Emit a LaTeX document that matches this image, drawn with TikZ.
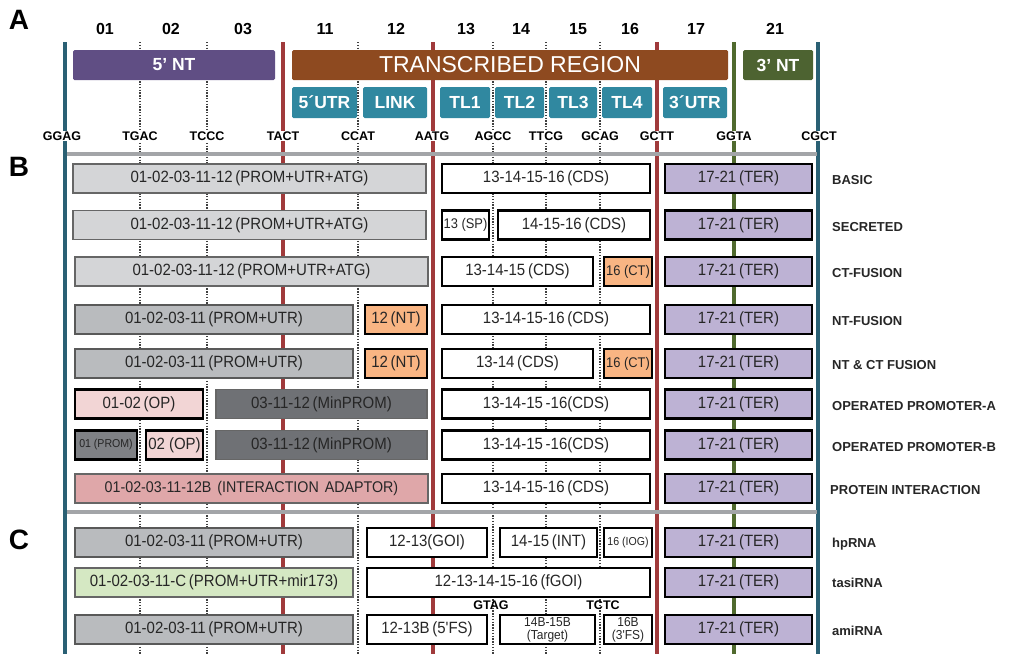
\documentclass[tikz,border=0pt]{standalone}
\usepackage{fontspec}
\setmainfont{Liberation Sans}
\newfontfamily\bxfont[FakeStretch=0.92]{Liberation Sans}
\newcommand\fsz[1]{\fontsize{#1}{#1}\selectfont}
\newcommand\bfsz[1]{\bxfont\fontsize{#1}{#1}\selectfont}
\definecolor{cPurp}{HTML}{604E84}
\definecolor{cBrown}{HTML}{8E4A20}
\definecolor{cDkGreen}{HTML}{4D6331}
\definecolor{cTeal}{HTML}{3088A0}
\definecolor{cRed}{HTML}{A03A3B}
\definecolor{cGreenLine}{HTML}{506A2E}
\definecolor{cTealLine}{HTML}{2A6074}
\definecolor{cSep}{HTML}{A3A5A8}
\definecolor{cPromL}{HTML}{D4D5D7}
\definecolor{cPromM}{HTML}{B9BBBE}
\definecolor{cPromD}{HTML}{7F8185}
\definecolor{cMinP}{HTML}{6F7175}
\definecolor{cOpPink}{HTML}{F2D5D5}
\definecolor{cIad}{HTML}{DFA7A9}
\definecolor{cOrange}{HTML}{F9B583}
\definecolor{cTer}{HTML}{BDB2D4}
\definecolor{cLtGreen}{HTML}{D5E8C3}
\definecolor{cTxt}{HTML}{262626}
\newcommand\bx[6]{\node[#2, minimum width={#4pt-#3pt}] (#1) at ({(#3+#4)/2},#5) {#6};}
\begin{document}
\begin{tikzpicture}[x=1pt,y=-1pt,
  bxbase/.style={rectangle, inner sep=0pt, minimum height=29pt, font=\bfsz{16.3}, text=cTxt, align=center},
  promL/.style={bxbase, fill=cPromL, draw=black!60, line width=1.5pt},
  promM/.style={bxbase, fill=cPromM, draw=black!65, line width=1.5pt},
  promD/.style={bxbase, fill=cPromD, draw=black, line width=2.4pt},
  minp/.style={bxbase, fill=cMinP, draw=black!60, line width=1.5pt},
  opk/.style={bxbase, fill=cOpPink, draw=black, line width=2.4pt},
  iad/.style={bxbase, fill=cIad, draw=black!60, line width=1.5pt},
  grn/.style={bxbase, fill=cLtGreen, draw=black!60, line width=1.5pt},
  cds/.style={bxbase, fill=white, draw=black, line width=2.4pt},
  cdsthin/.style={bxbase, fill=white, draw=black, line width=1.6pt, font=\bxfont\fontsize{13}{13}\selectfont},
  orng/.style={bxbase, fill=cOrange, draw=black, line width=2.4pt},
  ter/.style={bxbase, fill=cTer, draw=black, line width=2.4pt},
  bar/.style={rectangle, rounded corners=1.5pt, inner sep=0pt, text=white, font=\fsz{17.5}\bfseries},
  hdr/.style={font=\fsz{16}\bfseries, text=black},
  ovh/.style={font=\fsz{12.5}\bfseries, text=black, fill=white, inner sep=1pt},
  rowlab/.style={font=\fsz{13}\bfseries, text=cTxt, anchor=west, inner sep=0pt},
  sect/.style={font=\fsz{28}\bfseries, text=black},
  dotl/.style={draw=black!75, line width=1.3pt, dash pattern=on 1.4pt off 1.4pt},
  redl/.style={draw=cRed, line width=4pt},
  grnl/.style={draw=cGreenLine, line width=3.5pt},
  teall/.style={draw=cTealLine, line width=3.5pt},
  sepl/.style={draw=cSep, line width=4pt}
]
\useasboundingbox (0,0) rectangle (1009,654);
% vertical guide lines
\foreach \xx in {140,207,358,493,546,600} \draw[dotl] (\xx,42) -- (\xx,654);
\foreach \xx in {283,433,657} \draw[redl] (\xx,42) -- (\xx,654);
\draw[grnl] (734,42) -- (734,654);
\draw[teall] (65,42) -- (65,654);
\draw[teall] (818,42) -- (818,654);
% section letters
\node[sect] (lA) at (19,20) {A};
\node[sect] (lB) at (19,167) {B};
\node[sect] (lC) at (19,540) {C};
% part numbers
\node[hdr] (n01) at (105,29) {01};
\node[hdr] (n02) at (171,29) {02};
\node[hdr] (n03) at (243,29) {03};
\node[hdr] (n11) at (325,29) {11};
\node[hdr] (n12) at (396,29) {12};
\node[hdr] (n13) at (466,29) {13};
\node[hdr] (n14) at (521,29) {14};
\node[hdr] (n15) at (578,29) {15};
\node[hdr] (n16) at (630,29) {16};
\node[hdr] (n17) at (696,29) {17};
\node[hdr] (n21) at (775,29) {21};
% region bars
\node[bar, fill=cPurp, minimum width=202pt, minimum height=30pt] (fiveNT) at (174,65) {5’ NT};
\node[bar, fill=cBrown, minimum width=436pt, minimum height=30pt, font=\fsz{23}] (trans) at (510,65) {TRANSCRIBED REGION};
\node[bar, fill=cDkGreen, minimum width=70pt, minimum height=30pt] (threeNT) at (778,65) {3’ NT};
\node[bar, fill=cTeal, minimum width=65pt, minimum height=31pt] (utr5) at (324.5,102.5) {5´UTR};
\node[bar, fill=cTeal, minimum width=64pt, minimum height=31pt] (link) at (395,102.5) {LINK};
\node[bar, fill=cTeal, minimum width=50pt, minimum height=31pt] (tl1) at (465,102.5) {TL1};
\node[bar, fill=cTeal, minimum width=49pt, minimum height=31pt] (tl2) at (519.5,102.5) {TL2};
\node[bar, fill=cTeal, minimum width=48pt, minimum height=31pt] (tl3) at (573,102.5) {TL3};
\node[bar, fill=cTeal, minimum width=50pt, minimum height=31pt] (tl4) at (627,102.5) {TL4};
\node[bar, fill=cTeal, minimum width=64pt, minimum height=31pt] (utr3) at (695,102.5) {3´UTR};
% overhangs
\node[ovh] (o1) at (62,136) {GGAG};
\node[ovh] (o2) at (140,136) {TGAC};
\node[ovh] (o3) at (207,136) {TCCC};
\node[ovh] (o4) at (283,136) {TACT};
\node[ovh] (o5) at (358,136) {CCAT};
\node[ovh] (o6) at (432,136) {AATG};
\node[ovh] (o7) at (493,136) {AGCC};
\node[ovh] (o8) at (546,136) {TTCG};
\node[ovh] (o9) at (600,136) {GCAG};
\node[ovh] (o10) at (657,136) {GCTT};
\node[ovh] (o11) at (734,136) {GGTA};
\node[ovh] (o12) at (819,136) {CGCT};
% separators
\draw[sepl] (67,154) -- (817,154);
\draw[sepl] (67,512) -- (817,512);
% row 1 BASIC
\bx{r1a}{promL}{73}{426}{178.5}{01-02-03-11-12\,(PROM+UTR+ATG)}
\bx{r1b}{cds}{442}{650}{178.5}{13-14-15-16\,(CDS)}
\bx{r1c}{ter}{665}{812}{178.5}{17-21\,(TER)}
% row 2 SECRETED
\bx{r2a}{promL}{73}{426}{225}{01-02-03-11-12\,(PROM+UTR+ATG)}
\bx{r2b}{cds, font=\bfsz{14}}{442}{489}{225}{13 (SP)}
\bx{r2c}{cds}{498}{650}{225}{14-15-16\,(CDS)}
\bx{r2d}{ter}{665}{812}{225}{17-21\,(TER)}
% row 3 CT-FUSION
\bx{r3a}{promL}{75}{428}{271.5}{01-02-03-11-12\,(PROM+UTR+ATG)}
\bx{r3b}{cds}{442}{593}{271.5}{13-14-15\,(CDS)}
\bx{r3c}{orng, font=\bfsz{14}}{604}{652}{271.5}{16 (CT)}
\bx{r3d}{ter}{665}{812}{271.5}{17-21\,(TER)}
% row 4 NT-FUSION
\bx{r4a}{promM}{75}{353}{319.5}{01-02-03-11\,(PROM+UTR)}
\bx{r4b}{orng}{365}{427}{319.5}{12\,(NT)}
\bx{r4c}{cds}{442}{650}{319.5}{13-14-15-16\,(CDS)}
\bx{r4d}{ter}{665}{812}{319.5}{17-21\,(TER)}
% row 5 NT & CT FUSION
\bx{r5a}{promM}{75}{353}{363.5}{01-02-03-11\,(PROM+UTR)}
\bx{r5b}{orng}{365}{427}{363.5}{12\,(NT)}
\bx{r5c}{cds}{442}{593}{363.5}{13-14\,(CDS)}
\bx{r5d}{orng, font=\bfsz{14}}{604}{652}{363.5}{16 (CT)}
\bx{r5e}{ter}{665}{812}{363.5}{17-21\,(TER)}
% row 6 OPERATED PROMOTER-A
\bx{r6a}{opk}{75}{203}{404}{01-02\,(OP)}
\bx{r6b}{minp}{216}{427}{404}{03-11-12\,(MinPROM)}
\bx{r6c}{cds}{442}{650}{404}{13-14-15\,-16(CDS)}
\bx{r6d}{ter}{665}{812}{404}{17-21\,(TER)}
% row 7 OPERATED PROMOTER-B
\bx{r7a}{promD, font=\bfsz{11.5}}{75}{137}{445}{01 (PROM)}
\bx{r7b}{opk}{146}{203}{445}{02 (OP)}
\bx{r7c}{minp}{216}{427}{445}{03-11-12\,(MinPROM)}
\bx{r7d}{cds}{442}{650}{445}{13-14-15\,-16(CDS)}
\bx{r7e}{ter}{665}{812}{445}{17-21\,(TER)}
% row 8 PROTEIN INTERACTION
\bx{r8a}{iad, font=\bfsz{15.5}}{75}{428}{488.5}{01-02-03-11-12B\hspace{2pt} (INTERACTION\hspace{2pt} ADAPTOR)}
\bx{r8b}{cds}{442}{650}{488.5}{13-14-15-16\,(CDS)}
\bx{r8c}{ter}{665}{812}{488.5}{17-21\,(TER)}
% row 9 hpRNA
\bx{r9a}{promM}{75}{353}{542.5}{01-02-03-11\,(PROM+UTR)}
\bx{r9b}{cds}{367}{487}{542.5}{12-13(GOI)}
\bx{r9c}{cds}{500}{597}{542.5}{14-15\,(INT)}
\bx{r9d}{cds, font=\bfsz{11.5}}{604}{652}{542.5}{16 (IOG)}
\bx{r9e}{ter}{665}{812}{542.5}{17-21\,(TER)}
% row 10 tasiRNA
\bx{r10a}{grn}{75}{353}{582.5}{01-02-03-11-C\,(PROM+UTR+mir173)}
\bx{r10b}{cds}{367}{650}{582.5}{12-13-14-15-16\,(fGOI)}
\bx{r10c}{ter}{665}{812}{582.5}{17-21\,(TER)}
% row 11 amiRNA
\node[ovh, fill=none] (gtag) at (491,605) {GTAG};
\node[ovh, fill=none] (tctc) at (603,605) {TCTC};
\bx{r11a}{promM}{75}{353}{629.5}{01-02-03-11\,(PROM+UTR)}
\bx{r11b}{cds}{367}{487}{629.5}{12-13B\,(5'FS)}
\bx{r11c}{cdsthin}{500}{595}{629.5}{14B-15B\\(Target)}
\bx{r11d}{cdsthin}{604}{652}{629.5}{16B\\(3'FS)}
\bx{r11e}{ter}{665}{812}{629.5}{17-21\,(TER)}
% row labels
\node[rowlab] (lab1) at (832,180) {BASIC};
\node[rowlab] (lab2) at (832,227) {SECRETED};
\node[rowlab] (lab3) at (832,273) {CT-FUSION};
\node[rowlab] (lab4) at (832,321) {NT-FUSION};
\node[rowlab] (lab5) at (832,365) {NT \& CT FUSION};
\node[rowlab] (lab6) at (832,406) {OPERATED PROMOTER-A};
\node[rowlab] (lab7) at (832,447) {OPERATED PROMOTER-B};
\node[rowlab] (lab8) at (830,490) {PROTEIN INTERACTION};
\node[rowlab] (lab9) at (832,544) {hpRNA};
\node[rowlab] (lab10) at (832,583) {tasiRNA};
\node[rowlab] (lab11) at (832,631) {amiRNA};
\end{tikzpicture}
\end{document}
